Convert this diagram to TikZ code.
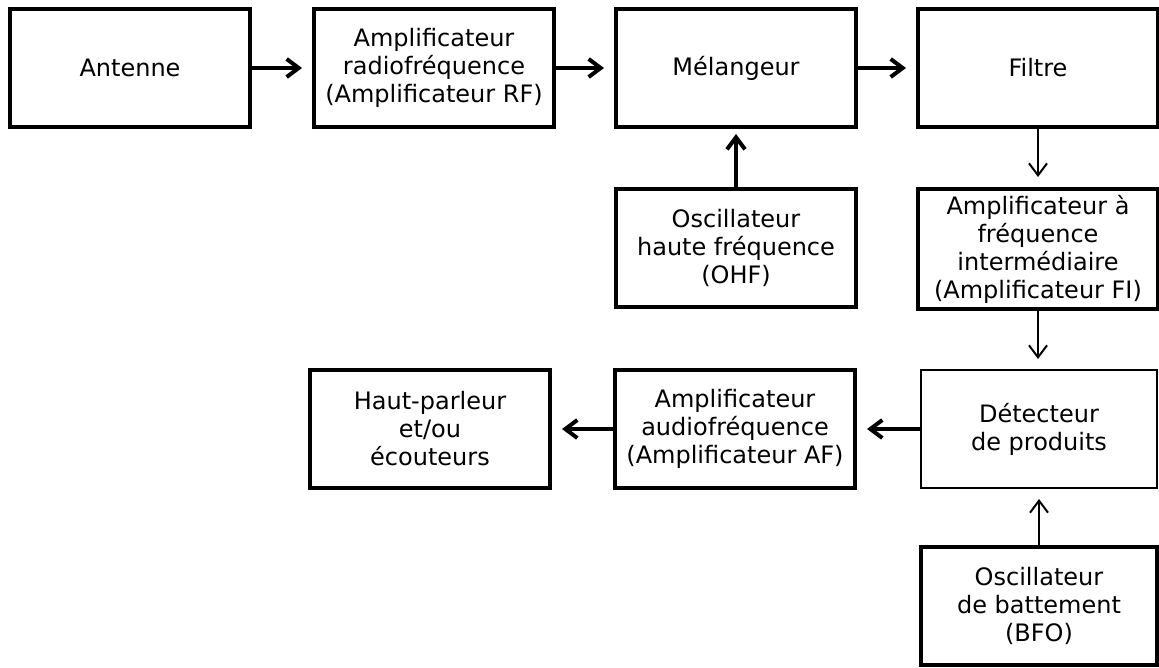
\documentclass[tikz,border=0pt]{standalone}
\usepackage{fontspec}
\setmainfont{DejaVu Sans}
\usepackage{tikz}
\usetikzlibrary{arrows.meta,positioning}

\begin{document}
\begin{tikzpicture}[x=1pt, y=-1pt,
    every node/.style={font=\fontsize{24}{28}\selectfont, align=center},
    bloc/.style={draw, line width=4pt, minimum width=240pt, minimum height=118pt, inner sep=0pt},
    blocfin/.style={bloc, line width=2pt},
    sig/.style={-{Straight Barb[length=12pt, width=18pt]}, line width=4pt},
    sigfin/.style={-{Straight Barb[length=12pt, width=18pt]}, line width=2pt}]
    \useasboundingbox (0,0) rectangle (1159,667);

    % chaine de reception
    \node[bloc] (ant) at (130,68) {Antenne};
    \node[bloc] (rf) at (434,68) {Amplificateur\\radiofréquence\\(Amplificateur RF)};
    \node[bloc] (mel) at (736,68) {Mélangeur};
    \node[bloc] (fil) at (1038,68) {Filtre};
    \node[bloc] (ohf) at (736,248) {Oscillateur\\haute fréquence\\(OHF)};
    \node[bloc, minimum height=120pt] (fi) at (1038,249) {Amplificateur à\\fréquence\\intermédiaire\\(Amplificateur FI)};
    \node[bloc] (hp) at (430,429) {Haut-parleur\\et/ou\\écouteurs};
    \node[bloc] (af) at (735,429) {Amplificateur\\audiofréquence\\(Amplificateur AF)};
    \node[blocfin, minimum width=236pt] (det) at (1039,429) {Détecteur\\de produits};
    \node[bloc, minimum width=236pt] (bfo) at (1039,606) {Oscillateur\\de battement\\(BFO)};

    \draw[sig] (ant.east) -- ([xshift=-10pt]rf.west);
    \draw[sig] (rf.east) -- ([xshift=-10pt]mel.west);
    \draw[sig] (mel.east) -- ([xshift=-10pt]fil.west);
    \draw[sig] (ohf.north) -- ([yshift=-5pt]mel.south);
    \draw[sigfin] (fil.south) -- ([yshift=10pt]fi.north);
    \draw[sigfin] (fi.south) -- ([yshift=10pt]fi.south |- det.north);
    \draw[sig] (det.west) -- ([xshift=10pt]af.east);
    \draw[sig] (af.west) -- ([xshift=10pt]hp.east);
    \draw[sigfin] (bfo.north) -- ([yshift=-10pt]det.south);
\end{tikzpicture}
\end{document}
